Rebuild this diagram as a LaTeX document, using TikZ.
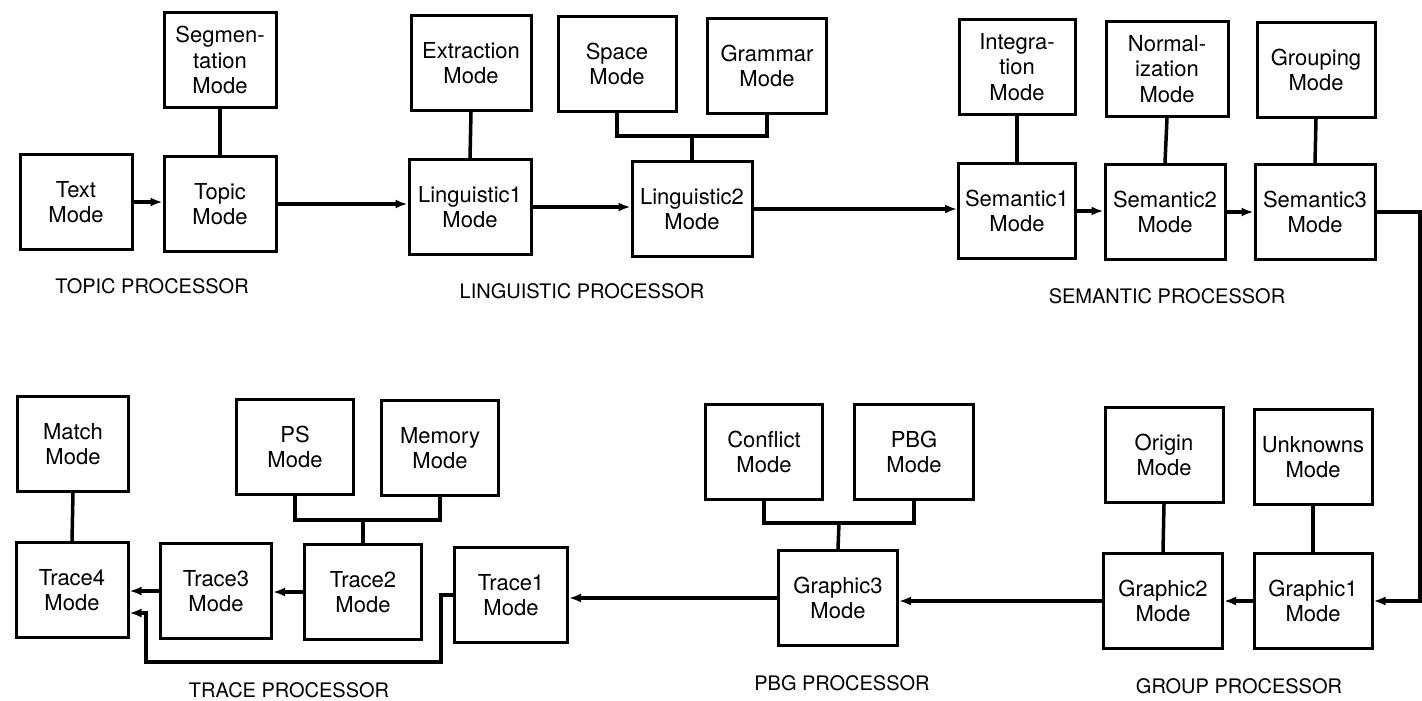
\documentclass[tikz,border=0pt]{standalone}
\usepackage{fontspec}
\setmainfont{TeX Gyre Heros}
\usetikzlibrary{arrows.meta}
\tikzset{
  modebox/.style={draw, line width=3pt, minimum height=95pt, minimum width=#1, align=center, inner sep=0pt,
    font=\fontsize{22}{25.5}\selectfont},
  modebox/.default=118pt,
  conn/.style={line width=3.5pt},
  arr/.style={line width=3.2pt, -{Latex[length=12pt,width=9pt]}},
  proclabel/.style={font=\fontsize{20}{24}\selectfont, inner sep=0pt}
}
\begin{document}
\begin{tikzpicture}[x=1pt,y=-1pt]
\useasboundingbox (0,0) rectangle (1422,701);
% ---- Topic processor
\node[modebox=112pt] (seg) at (220,60) {Segmen-\\tation\\Mode};
\node[modebox=112pt] (text) at (76,202) {Text\\Mode};
\node[modebox=112pt] (topic) at (220,204) {Topic\\Mode};
\node[proclabel] (ltopic) at (152,286) {TOPIC PROCESSOR};
% ---- Linguistic processor
\node[modebox=120pt] (extr) at (471,63) {Extraction\\Mode};
\node[modebox=122pt] (ling1) at (470,207) {Linguistic1\\Mode};
\node[modebox=118pt] (space) at (617,64) {Space\\Mode};
\node[modebox=119pt] (gram) at (767,66) {Grammar\\Mode};
\node[modebox=120pt] (ling2) at (692,209) {Linguistic2\\Mode};
\node[proclabel] (lling) at (582,291) {LINGUISTIC PROCESSOR};
% ---- Semantic processor
\node[modebox=116pt] (integ) at (1017,67) {Integra-\\tion\\Mode};
\node[modebox=117pt] (sem1) at (1017,211) {Semantic1\\Mode};
\node[modebox=122pt] (norm) at (1167,69) {Normal-\\ization\\Mode};
\node[modebox=120pt] (sem2) at (1165,212) {Semantic2\\Mode};
\node[modebox=118pt] (grp) at (1316,70) {Grouping\\Mode};
\node[modebox=120pt] (sem3) at (1315,212) {Semantic3\\Mode};
\node[proclabel] (lsem) at (1167,296) {SEMANTIC PROCESSOR};
% ---- Group processor
\node[modebox=118pt] (orig) at (1164,455) {Origin\\Mode};
\node[modebox=118pt] (unk) at (1313,457) {Unknowns\\Mode};
\node[modebox=119pt] (gr2) at (1163,601) {Graphic2\\Mode};
\node[modebox=118pt] (gr1) at (1313,601) {Graphic1\\Mode};
\node[proclabel] (lgrp) at (1239,686) {GROUP PROCESSOR};
% ---- PBG processor
\node[modebox=117pt] (confl) at (764,452) {Conflict\\Mode};
\node[modebox=119pt] (pbg) at (914,452) {PBG\\Mode};
\node[modebox=119pt] (gr3) at (838,598) {Graphic3\\Mode};
\node[proclabel] (lpbg) at (842,683) {PBG PROCESSOR};
% ---- Trace processor
\node[modebox=113pt] (tr1) at (511,595) {Trace1\\Mode};
\node[modebox=117pt] (ps) at (295,447) {PS\\Mode};
\node[modebox=117pt] (mem) at (440,448) {Memory\\Mode};
\node[modebox=117pt] (tr2) at (363,592) {Trace2\\Mode};
\node[modebox=111pt] (tr3) at (216,591) {Trace3\\Mode};
\node[modebox=111pt] (match) at (73,444) {Match\\Mode};
\node[modebox=112pt] (tr4) at (72,590) {Trace4\\Mode};
\node[proclabel] (ltrace) at (289,690) {TRACE PROCESSOR};
% ---- junction coordinates
\coordinate (lj) at (692,136);
\coordinate (pj) at (839,523);
\coordinate (tj) at (363,520);
\coordinate (rc) at (1420,400);
\coordinate (fb1) at (441,662);
\coordinate (fb2) at (146,662);
\coordinate (fb3) at (146,613);
% ---- connectors: top row
\draw[arr] (text.east) -- (text.east -| topic.west);
\draw[conn] (seg.south) -- (topic.north);
\draw[arr] (topic.east) -- (topic.east -| ling1.west);
\draw[conn] (extr.south) -- (ling1.north);
\draw[arr] (ling1.east) -- (ling1.east -| ling2.west);
\draw[conn] (space.south) |- (lj) -| (gram.south);
\draw[conn] (lj) -- (ling2.north);
\draw[arr] (ling2.east) -- (ling2.east -| sem1.west);
\draw[conn] (integ.south) -- (sem1.north);
\draw[conn] (norm.south) -- (sem2.north);
\draw[conn] (grp.south) -- (sem3.north);
\draw[arr] (sem1.east) -- (sem1.east -| sem2.west);
\draw[arr] (sem2.east) -- (sem2.east -| sem3.west);
\draw[arr] (sem3.east) -| (rc) |- (gr1.east);
% ---- bottom row
\draw[conn] (unk.south) -- (gr1.north);
\draw[conn] (orig.south) -- (gr2.north);
\draw[arr] (gr1.west) -- (gr1.west -| gr2.east);
\draw[arr] (gr2.west) -- (gr2.west -| gr3.east);
\draw[conn] (confl.south) |- (pj) -| (pbg.south);
\draw[conn] (pj) -- (gr3.north);
\draw[arr] (gr3.west) -- (gr3.west -| tr1.east);
\draw[conn] (ps.south) |- (tj) -| (mem.south);
\draw[conn] (tj) -- (tr2.north);
\draw[arr] (tr2.west) -- (tr2.west -| tr3.east);
\draw[arr] (tr3.west) -- (tr3.west -| tr4.east);
\draw[conn] (match.south) -- (tr4.north);
\draw[arr] (tr1.west) -| (fb1) -- (fb2) -- (fb3) -- (fb3 -| tr4.east);
\end{tikzpicture}
\end{document}
